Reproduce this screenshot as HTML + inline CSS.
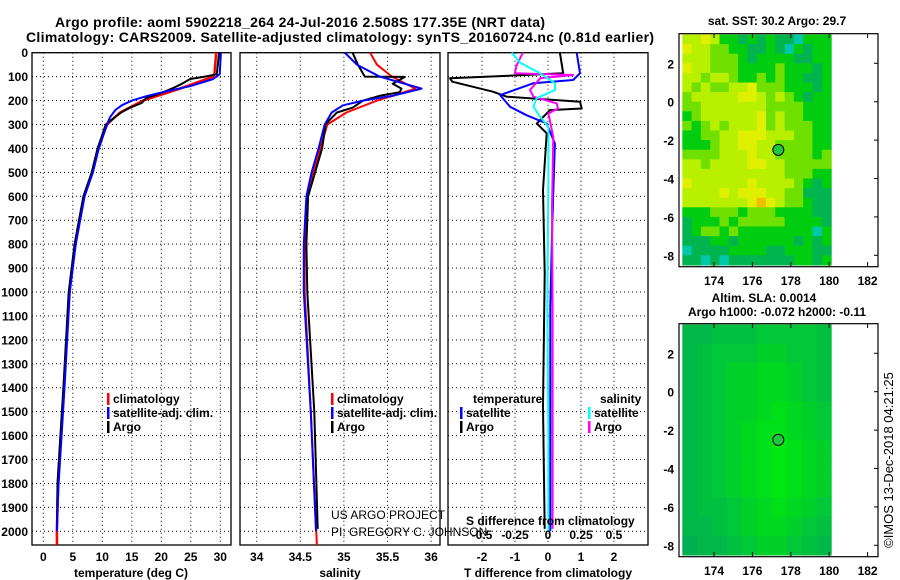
<!DOCTYPE html>
<html><head><meta charset="utf-8"><style>
html,body{margin:0;padding:0;background:#fff;}
svg{display:block;font-family:"Liberation Sans",sans-serif;}
.b{font-weight:bold;font-size:12px;}
</style></head><body>
<svg id="c" width="900" height="580" viewBox="0 0 900 580">
<text x="300" y="27" class="b" style="font-size:14px" text-anchor="middle" textLength="490">Argo profile: aoml 5902218_264 24-Jul-2016 2.508S 177.35E (NRT data)</text>
<text x="340" y="42" class="b" style="font-size:14px" text-anchor="middle" textLength="628">Climatology: CARS2009. Satellite-adjusted climatology: synTS_20160724.nc (0.81d earlier)</text>
<g id="g"></g>
</svg>
<script>
// ---- profile data ----
const tDepth=[0,90,100,150,200,250,300,400,500,600,700,800,900,1000,1400,1600,1800,2000,2057];
const tClim=[29.3,29.0,28.8,23.2,16.9,13.0,10.8,9.3,8.3,6.9,6.1,5.4,4.9,4.4,3.5,3.0,2.5,2.3,2.3];
const tArgoDepth=[0,90,100,110,130,150,170,190,210,230,250,280,300,400,500,600,800,1000,1400,1600,1800,1990];
const tArgo=[29.8,29.4,27.4,24.9,23.5,21.8,19.8,17.4,16.7,14.7,13.2,11.6,10.6,9.2,8.2,6.8,5.3,4.3,3.4,2.9,2.4,2.3];
const tSatDepth=[0,90,110,140,160,180,200,220,240,270,300,400,500,600,800,1000,1400,1600,1800,2000];
const tSat=[30.1,29.9,28.8,24.9,21.1,17.7,15.0,13.3,12.2,11.3,10.8,9.4,8.4,7.0,5.5,4.5,3.6,3.1,2.6,2.3];
const sDepth=[0,50,100,150,180,200,250,300,400,500,600,800,1000,1500,1900,2057];
const sClim=[35.30,35.38,35.55,35.82,35.56,35.38,35.03,34.81,34.73,34.65,34.59,34.55,34.55,34.62,34.67,34.69];
const sArgoDepth=[0,50,100,101,130,150,165,180,200,230,250,280,300,400,500,600,800,1000,1500,1990];
const sArgo=[35.10,35.16,35.24,35.70,35.56,35.66,35.64,35.41,35.22,35.10,34.92,34.84,34.79,34.75,34.67,34.59,34.57,34.58,34.66,34.70];
const sSatDepth=[0,50,100,150,180,200,220,250,300,400,500,600,800,1000,1500,2000];
const sSat=[35.01,35.15,35.41,35.89,35.56,35.22,34.99,34.86,34.78,34.71,34.63,34.57,34.54,34.54,34.62,34.68];
const dtArgoDepth=[0,86,107,121,163,184,205,233,240,296,337,574,921,1479,1990];
const dtArgo=[0.36,0.46,-2.97,-2.9,-1.67,-1.25,0.97,1.02,0.06,-0.34,-0.04,-0.15,-0.1,-0.15,-0.1];
const dtSatDepth=[0,86,114,128,177,226,261,296,380,505,714,1062,1605,2000];
const dtSat=[0.87,0.97,0.76,-0.45,-1.45,-1.15,-0.65,-0.04,0.21,0.18,0.13,0.07,0.07,0.07];
const dsSatDepth=[0,42,86,128,156,190,226,268,310,505,1062,1605,2000];
const dsSat=[-0.275,-0.21,-0.06,0.053,0.053,-0.086,-0.11,-0.06,0.003,0.003,-0.005,0.003,0.003];
const dsArgoDepth=[0,56,86,93,107,156,184,212,233,254,352,645,1062,1605,1990];
const dsArgo=[-0.19,-0.24,-0.25,0.19,-0.06,-0.136,-0.11,0.066,0.076,0.003,0.04,0.03,0.035,0.035,0.035];
const depthTicks=[0,100,200,300,400,500,600,700,800,900,1000,1100,1200,1300,1400,1500,1600,1700,1800,1900,2000];
const tTicks=[0,5,10,15,20,25,30];
const sTicks=[34,34.5,35,35.5,36];
const dtTicks=[-2,-1,0,1,2];
const dsTickLabels=["-0.5","-0.25","0","0.25","0.5"];
// ---- map data ----
const sstGrid=[
"4454221212110222","5443322112102122","4443332122221122","5443332222322212",
"4434432232322112","4343344533322212","3444445543432122","3344444443333222",
"2344444453433222","3234344453433322","2233445554443322","2223445544333322",
"3333444544333323","4434444554433333","4444444444433322","5444444544443212",
"4444545554433111","4444444565433211","2223332333222211","1222323333322221",
"1233232222222202","1112212222221212","0111122221122211","1101011111112212"];
const slaGrid=[
"1122233332","1233344332","1234455432","1234455432","1234456543","1234566543",
"1234567654","1234567654","1234567654","1223456543","1123455432","0112344321"];
const lonTicks=[174,176,178,180,182];
const latTicks=[2,0,-2,-4,-6,-8];
const floatLon=177.35, floatLat=-2.508;

const NS="http://www.w3.org/2000/svg";
const G=document.getElementById('g');
function mk(t,a,p){const e=document.createElementNS(NS,t);for(const k in a)e.setAttribute(k,a[k]);(p||G).appendChild(e);return e;}
const yTop=52.7, yPx=0.2393, yBot=545;
const yD=d=>yTop+d*yPx;
const panels=[
 {x0:32,x1:231,fx:v=>43.3+5.9*v},
 {x0:240,x1:440,fx:v=>256.7+(v-34)*87.2},
 {x0:448,x1:648,fx:v=>548+33*v}
];
const fS=v=>548+132*v;
// grids & frames
panels.forEach((p,i)=>{
  depthTicks.forEach(d=>{const l=mk('line',{x1:p.x0,x2:p.x1,y1:yD(d),y2:yD(d),stroke:'#000','stroke-dasharray':'1,3','stroke-width':1});
    });
  const tk=i==0?tTicks:i==1?sTicks:dtTicks;
  tk.forEach(v=>{const x=p.fx(v);const l=mk('line',{x1:x,x2:x,y1:yTop,y2:yBot,stroke:'#000','stroke-dasharray':'1,3'});
    
    const t=mk('text',{x:x,y:561,'text-anchor':'middle',class:'b'});t.textContent=String(v);
    });
  const r=mk('rect',{x:p.x0,y:yTop,width:p.x1-p.x0,height:yBot-yTop,fill:'none',stroke:'#000','stroke-width':1.3});
  
});
depthTicks.forEach(d=>{const t=mk('text',{x:28,y:yD(d)+4.5,'text-anchor':'end',class:'b'});t.textContent=String(d);
  });
function line(dep,val,fx,col,w,name){
  const pts=dep.map((d,i)=>fx(val[i]).toFixed(1)+','+yD(d).toFixed(1)).join(' ');
  const e=mk('polyline',{points:pts,fill:'none',stroke:col,'stroke-width':w,'stroke-linejoin':'round'});
  }
const P=panels;
line(tDepth,tClim,P[0].fx,'#f00',2.5,'temperature-climatology-line');
line(tArgoDepth,tArgo,P[0].fx,'#000',2,'temperature-argo-line');
line(tSatDepth,tSat,P[0].fx,'#00f',2,'temperature-satellite-line');
line(sDepth,sClim,P[1].fx,'#f00',2,'salinity-climatology-line');
line(sArgoDepth,sArgo,P[1].fx,'#000',2,'salinity-argo-line');
line(sSatDepth,sSat,P[1].fx,'#00f',2,'salinity-satellite-line');
line(dtArgoDepth,dtArgo,P[2].fx,'#000',2,'t-diff-argo-line');
line(dtSatDepth,dtSat,P[2].fx,'#00f',2,'t-diff-satellite-line');
line(dsArgoDepth,dsArgo,fS,'#f0f',2,'s-diff-argo-line');
line(dsSatDepth,dsSat,fS,'#0ff',2,'s-diff-satellite-line');
// legends
function leg(x,y,col,txt,name){
  if(col){const b=mk('rect',{x:x,y:y-10,width:2.5,height:12,fill:col});}
  const t=mk('text',{x:x+6,y:y,class:'b'});t.textContent=txt;}
leg(107,403,'#f00','climatology','legend-climatology');
leg(107,417,'#00f','satellite-adj. clim.','legend-satellite-adj');
leg(107,431,'#000','Argo','legend-argo');
leg(331,403,'#f00','climatology','legend2-climatology');
leg(331,417,'#00f','satellite-adj. clim.','legend2-satellite-adj');
leg(331,431,'#000','Argo','legend2-argo');
leg(467,403,null,'temperature','legend-temperature-heading');
leg(460,417,'#00f','satellite','legend-t-satellite');
leg(460,431,'#000','Argo','legend-t-argo');
leg(594,403,null,'salinity','legend-salinity-heading');
leg(588,417,'#0ff','satellite','legend-s-satellite');
leg(588,431,'#f0f','Argo','legend-s-argo');
function txt(x,y,s,cls,name,anchor,extra){const t=mk('text',Object.assign({x:x,y:y,class:cls||'','text-anchor':anchor||'start'},extra||{}));t.textContent=s;
  return t;}
txt(331,519,'US ARGO PROJECT','','credit-project','start',{'font-size':12});
txt(331,536,'PI: GREGORY C. JOHNSON','','credit-pi','start',{'font-size':12});
txt(466,525,'S difference from climatology','b','s-diff-axis-title');
dsTickLabels.forEach((s,i)=>txt(P[2].fx(dtTicks[i]),539,s,'b','s-diff-tick-label','middle'));
txt(131,577,'temperature (deg C)','b','temperature-axis-title','middle');
txt(340,577,'salinity','b','salinity-axis-title','middle');
txt(548,577,'T difference from climatology','b','t-diff-axis-title','middle');
// maps
const sstCol=['#00c8a8','#00b450','#00cc10','#70e000','#b8f000','#e0f000','#f0c000'];
const slaCol=['#00b050','#00b848','#00c040','#00c838','#00d028','#00d820','#00e018','#00e810'];
function map(oy,grid,cols,name){
  const lx=v=>714+(v-174)*19.2, ly=v=>oy+63.3-(v-2)*19.2;
  const lon0=172.35,lon1=180.1,lat0=3.5,lat1=-8.5;
  const nr=grid.length,nc=grid[0].length,dw=(lon1-lon0)/nc,dh=(lat0-lat1)/nr;
  grid.forEach((row,r)=>{for(let c=0;c<nc;c++){
    const x=lx(lon0+c*dw),y=ly(lat0-r*dh);
    const e=mk('rect',{x:x.toFixed(1),y:y.toFixed(1),width:(lx(lon0+(c+1)*dw)-x+0.6).toFixed(1),height:(ly(lat0-(r+1)*dh)-y+0.6).toFixed(1),fill:cols[+row[c]]});
    }});
  const fr=mk('rect',{x:679,y:oy+33.7,width:199,height:233,fill:'none',stroke:'#000','stroke-width':1.2});
  
  lonTicks.forEach(v=>{mk('line',{x1:lx(v),x2:lx(v),y1:oy+33.7,y2:oy+38,stroke:'#000'});mk('line',{x1:lx(v),x2:lx(v),y1:oy+262,y2:oy+266.7,stroke:'#000'});
    txt(lx(v),oy+285,String(v),'b',name+'-lon-tick','middle',{'font-size':13});});
  latTicks.forEach(v=>{mk('line',{x1:874,x2:878,y1:ly(v),y2:ly(v),stroke:'#000'});
    txt(674,ly(v)+5,String(v),'b',name+'-lat-tick','end',{'font-size':13});});
  const ci=mk('circle',{cx:lx(floatLon),cy:ly(floatLat),r:5.5,fill:'#20c840',stroke:'#000','stroke-width':1});
  
}
map(0,sstGrid,sstCol,'sst-map');
map(290,slaGrid,slaCol,'sla-map');
txt(777,25,'sat. SST: 30.2 Argo: 29.7','b','sst-map-title','middle',{'font-size':13});
txt(764,302,'Altim. SLA: 0.0014','b','sla-map-title','middle',{'font-size':13});
txt(777,316,'Argo h1000: -0.072 h2000: -0.11','b','sla-map-subtitle','middle',{'font-size':13});
txt(0,0,'©IMOS 13-Dec-2018 04:21:25','','imos-credit','middle',{'font-size':13,transform:'translate(893,460) rotate(-90)'});
</script>
</body></html>
